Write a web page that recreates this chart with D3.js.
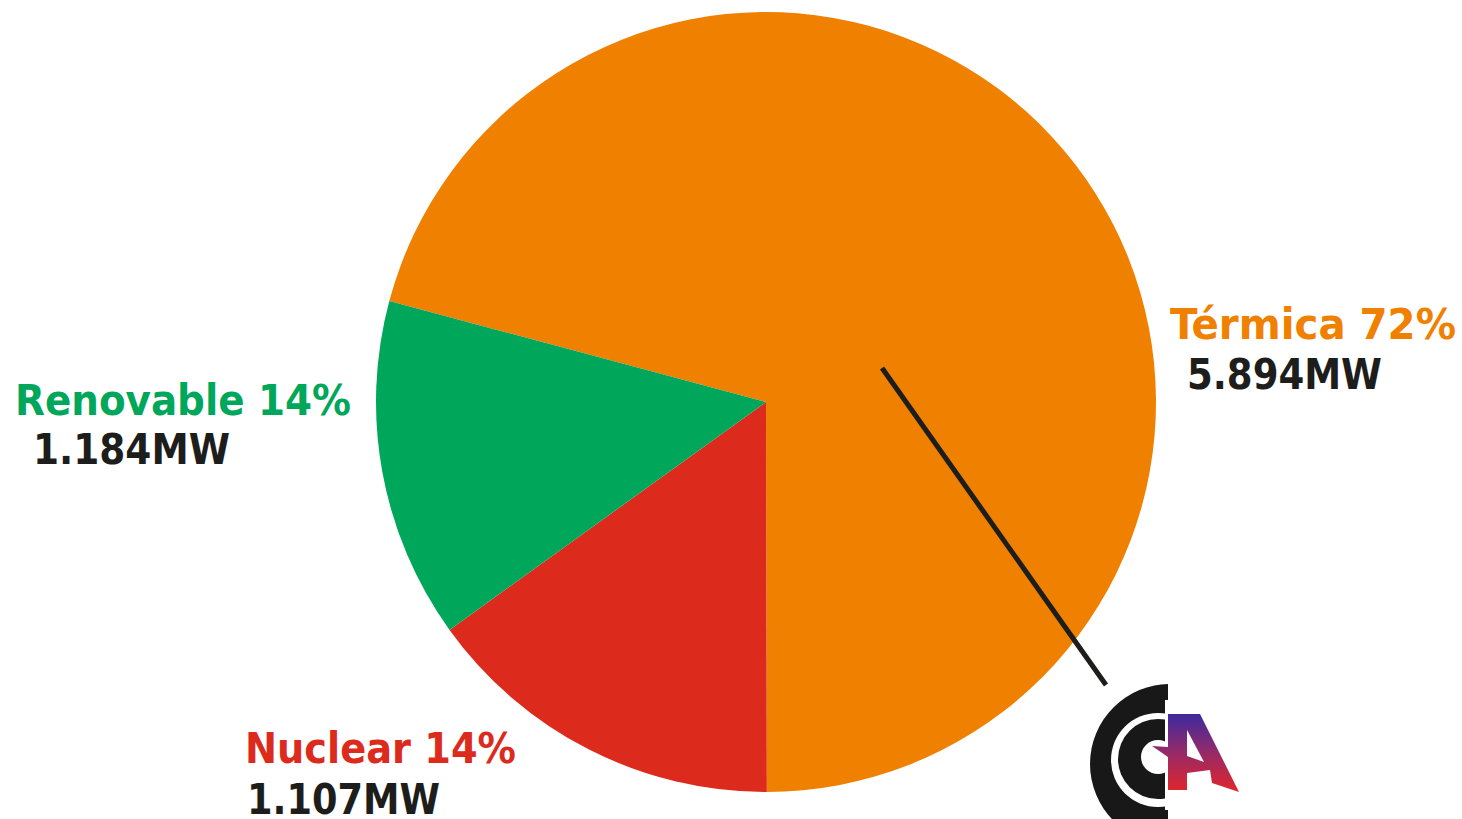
<!DOCTYPE html>
<html>
<head>
<meta charset="utf-8">
<script src="https://cdn.jsdelivr.net/npm/d3@7"></script>
<style>
  html, body { margin: 0; padding: 0; background: #ffffff; overflow: hidden; }
  svg { display: block; }
  text { font-family: "DejaVu Sans Condensed", "DejaVu Sans", sans-serif; font-weight: bold; }
</style>
</head>
<body>
<svg id="chart" width="1462" height="819"></svg>
<script>
// ---- data ----
const categories = ["Térmica", "Nuclear", "Renovable"];
const shares = [70.8, 15.1, 14.1];          // slice sizes as drawn (%)
const pctLabels = ["72%", "14%", "14%"];
const mwLabels = ["5.894MW", "1.107MW", "1.184MW"];
const colors = ["#F08000", "#DC2B1D", "#00A65A"];

// ---- layout ----
const W = 1462, H = 819;
const cx = 766, cy = 402, R = 390;
const labelPos = [
  { x: 1170, y: 339, x2: 1187, y2: 389, w1: 286, w2: 195 },
  { x: 245,  y: 763, x2: 247,  y2: 814, w1: 271, w2: 193 },
  { x: 15,   y: 415, x2: 33,   y2: 464, w1: 336, w2: 197 }
];

const svg = d3.select("#chart");

const pie = d3.pie().sort(null)
  .startAngle(-75 * Math.PI / 180)
  .endAngle(-75 * Math.PI / 180 + 2 * Math.PI);
const arc = d3.arc().innerRadius(0).outerRadius(R);
const arcs = pie(shares);

const g = svg.append("g").attr("transform", `translate(${cx},${cy})`);
g.selectAll("path.slice").data(arcs).enter().append("path")
  .attr("class", "slice")
  .attr("d", arc)
  .attr("fill", (d, i) => colors[i]);

// pointer line towards the logo
svg.append("line")
  .attr("x1", 882).attr("y1", 368).attr("x2", 1106).attr("y2", 685)
  .attr("stroke", "#1D1D1B").attr("stroke-width", 5);

// labels
categories.forEach((c, i) => {
  const p = labelPos[i];
  svg.append("text")
    .attr("x", p.x).attr("y", p.y)
    .attr("font-size", 43)
    .attr("fill", colors[i])
    .attr("textLength", p.w1).attr("lengthAdjust", "spacingAndGlyphs")
    .text(c + " " + pctLabels[i]);
  svg.append("text")
    .attr("x", p.x2).attr("y", p.y2)
    .attr("font-size", 43)
    .attr("fill", "#1D1D1B")
    .attr("textLength", p.w2).attr("lengthAdjust", "spacingAndGlyphs")
    .text(mwLabels[i]);
});

// ---- logo ----
const defs = svg.append("defs");
const grad = defs.append("linearGradient").attr("id", "agrad")
  .attr("x1", 0).attr("y1", 0).attr("x2", 0).attr("y2", 1);
grad.append("stop").attr("offset", "0%").attr("stop-color", "#3C2A9E");
grad.append("stop").attr("offset", "45%").attr("stop-color", "#8E2A6E");
grad.append("stop").attr("offset", "100%").attr("stop-color", "#E3262A");
defs.append("clipPath").attr("id", "cOuter").append("rect")
  .attr("x", 1000).attr("y", 600).attr("width", 168).attr("height", 300);
defs.append("clipPath").attr("id", "cInner").append("rect")
  .attr("x", 1000).attr("y", 600).attr("width", 165).attr("height", 300);

const logo = svg.append("g");
logo.append("circle").attr("cx", 1170).attr("cy", 764).attr("r", 80)
  .attr("fill", "#171817").attr("clip-path", "url(#cOuter)");
logo.append("circle").attr("cx", 1158).attr("cy", 760).attr("r", 47)
  .attr("fill", "#ffffff").attr("clip-path", "url(#cOuter)");
logo.append("circle").attr("cx", 1158).attr("cy", 759).attr("r", 40)
  .attr("fill", "#171817").attr("clip-path", "url(#cInner)");
logo.append("circle").attr("cx", 1158).attr("cy", 757).attr("r", 17)
  .attr("fill", "#ffffff").attr("clip-path", "url(#cInner)");
logo.append("rect").attr("x", 1165).attr("y", 700).attr("width", 3).attr("height", 110).attr("fill", "#ffffff");

const aPts = [[1168,714],[1200,714],[1239,792],[1212,783],[1210,770],[1187,773],[1187,790],[1168,790],[1168,757],[1152,746],[1168,747]];
logo.append("path").attr("d", d3.line()(aPts) + "Z").attr("fill", "url(#agrad)");
const counter = [[1187,730],[1187,756],[1204,762]];
logo.append("path").attr("d", d3.line()(counter) + "Z").attr("fill", "#ffffff");
</script>
</body>
</html>
